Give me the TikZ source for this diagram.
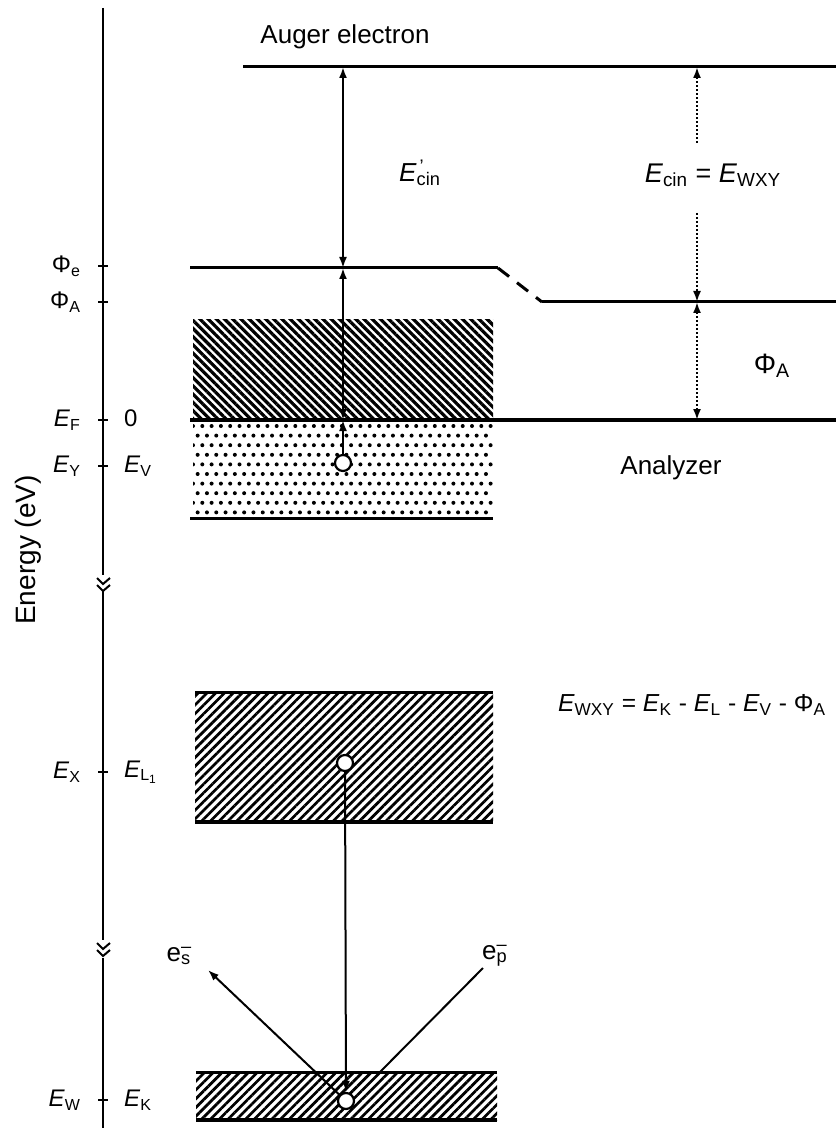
\documentclass[tikz,border=0pt]{standalone}
\usepackage{fontspec}
\setmainfont{Liberation Sans}
\usetikzlibrary{arrows.meta,patterns.meta}
\newcommand\en[2]{\textit{#1}\textsubscript{#2}}
\newcommand\elec[1]{e\rlap{\textsuperscript{--}}\textsubscript{#1}}

\begin{document}
\begin{tikzpicture}[x=0.5pt,y=-0.5pt,
    lvl/.style={line width=1.5pt},
    tick/.style={line width=1pt},
    tip/.style={line width=1pt,-{Latex[length=5.5pt,width=4pt]}},
    dbl/.style={line width=1pt,{Latex[length=5.5pt,width=4pt]}-{Latex[length=5.5pt,width=4pt]}},
    dotarr/.style={densely dotted,line width=1pt},
    hole/.style={circle,draw,fill=white,line width=1.1pt,inner sep=0pt,minimum size=8pt},
    lab/.style={font=\fontsize{13}{15}\selectfont},
    axlab/.style={font=\fontsize{12}{14}\selectfont}]
  \useasboundingbox (0,0) rectangle (836,1128);
  % energy axis
  \draw[tick] (103,8) -- (103,575);
  \draw[tick] (103,591) -- (103,940);
  \draw[tick] (103,958) -- (103,1128);
  \draw[tick] (97,578) -- (103,584) -- (110,578);
  \draw[tick] (97,585) -- (103,591) -- (110,585);
  \draw[tick] (97,943) -- (103,949) -- (110,943);
  \draw[tick] (97,950) -- (103,956) -- (110,950);
  \foreach \y in {266,302,420,466,772,1100}
    \draw[tick] (98,\y) -- (108,\y);
  \node[lab,rotate=90] (energy) at (28,550) {\fontsize{14}{16}\selectfont Energy (eV)};
  \node[axlab,anchor=east] (phie) at (88,266) {Φ\textsubscript{e}};
  \node[axlab,anchor=east] (phia) at (88,302) {Φ\textsubscript{A}};
  \node[axlab,anchor=east] (ef) at (88,420) {\en{E}{F}};
  \node[axlab,anchor=east] (ey) at (88,466) {\en{E}{Y}};
  \node[axlab,anchor=east] (ex) at (88,772) {\en{E}{X}};
  \node[axlab,anchor=east] (ew) at (88,1100) {\en{E}{W}};
  \node[axlab,anchor=west] (zero) at (117,418) {0};
  \node[axlab,anchor=west] (ev) at (117,466) {\en{E}{V}};
  \node[axlab,anchor=west] (el) at (117,772) {\en{E}{L\textsubscript{1}}};
  \node[axlab,anchor=west] (ek) at (117,1100) {\en{E}{K}};

  % bands
  \fill[pattern={Lines[angle=-45,distance=2.9pt,line width=1.6pt]}] (193,320) rectangle (493,420);
  \begin{scope}
    \clip (193,421) rectangle (493,518);
    \foreach \r in {0,...,10}
      \foreach \c in {0,...,33}
        \fill ({193+\c*9.3+mod(\r,2)*4.65},{426+\r*9.6}) circle (2);
  \end{scope}
  \draw[lvl] (190,518) -- (493,518);
  \fill[pattern={Lines[angle=45,distance=3.1pt,line width=1.35pt]}] (195,692) rectangle (493,822);
  \draw[lvl] (195,692) -- (493,692);
  \draw[line width=2pt] (195,822) -- (493,822);
  \fill[pattern={Lines[angle=45,distance=3.1pt,line width=1.35pt]}] (196,1072) rectangle (497,1120);
  \draw[lvl] (196,1072) -- (497,1072);
  \draw[line width=2pt] (196,1120) -- (497,1120);

  % levels
  \draw[lvl] (243,67) -- (836,67);
  \draw[lvl] (190,268) -- (498,268);
  \draw[lvl,dash pattern=on 7pt off 5pt] (498,268) -- (542,302);
  \draw[lvl] (542,302) -- (836,302);
  \draw[line width=2pt] (190,420) -- (836,420);

  % labels
  \node[lab] (auger) at (345,37) {Auger electron};
  \node[lab] (ecinp) at (420,173) {\textit{E}\rlap{\textsuperscript{\,'}}\textsubscript{cin}};
  \node[lab,fill=white] (ecin) at (713,175) {\fontsize{13.5}{15}\selectfont\en{E}{cin} = \en{E}{WXY}};
  \node[lab] (phiar) at (772,366) {\fontsize{14}{16}\selectfont Φ\textsubscript{A}};
  \node[lab] (analyzer) at (671,468) {Analyzer};
  \node[lab,anchor=west,font=\fontsize{12.3}{14}\selectfont] (wxy) at (551,705) {\en{E}{WXY} = \en{E}{K} - \en{E}{L} - \en{E}{V} - Φ\textsubscript{A}};
  \node[lab] (esl) at (179,956) {\elec{s}};
  \node[lab] (epl) at (495,956) {\elec{p}};

  % transitions
  \coordinate (au) at (343,67);
  \coordinate (pe) at (343,268);
  \coordinate (fe) at (343,420);
  \node[hole] (hv) at (343,463) {};
  \node[hole] (hl) at (345,763) {};
  \node[hole] (hk) at (346,1101) {};
  \draw[dbl] (pe) -- (au);
  \draw[dbl] (pe) -- (fe);
  \draw[tip] (hv) -- (fe);
  \draw[tip] (hl) -- (hk);
  \coordinate (es) at (208,970);
  \coordinate (ep) at (483,968);
  \coordinate (epin) at (380,1072);
  \draw[tip] (hk) -- (es);
  \draw[line width=1pt] (ep) -- (epin);

  % analyzer side
  \coordinate (ra) at (697,67);
  \coordinate (rb) at (697,143);
  \coordinate (rc) at (697,213);
  \coordinate (rd) at (697,302);
  \coordinate (re) at (697,420);
  \draw[dotarr,-{Latex[length=5.5pt,width=4pt]}] (rb) -- (ra);
  \draw[dotarr,-{Latex[length=5.5pt,width=4pt]}] (rc) -- (rd);
  \draw[dotarr,{Latex[length=5.5pt,width=4pt]}-{Latex[length=5.5pt,width=4pt]}] (rd) -- (re);
\end{tikzpicture}
\end{document}
